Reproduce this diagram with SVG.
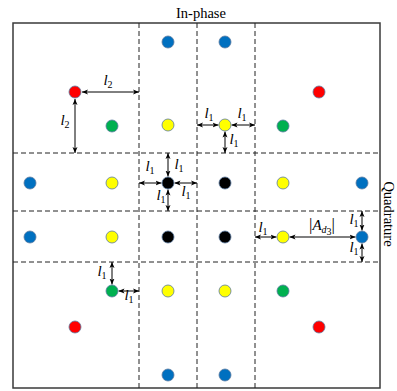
<svg xmlns="http://www.w3.org/2000/svg" width="397" height="391" viewBox="0 0 397 391">
<style>
.box{fill:none;stroke:#3a3a3a;stroke-width:1.5}
.dash{fill:none;stroke:#222;stroke-width:1;stroke-dasharray:5,3}
.arr{fill:none;stroke:#000;stroke-width:1;marker-start:url(#ah);marker-end:url(#ah)}
.dot{stroke:#5a7aa0;stroke-width:0.8}
.blue{fill:#0070C0}.red{fill:#FF0000}.green{fill:#00B050}.yellow{fill:#FFFF00}.black{fill:#000000}
.ttl{font-family:"Liberation Serif","DejaVu Serif",serif;font-size:14.5px;fill:#000}
.lab{font-family:"Liberation Serif","DejaVu Serif",serif;font-style:italic;font-size:15px;fill:#000;text-anchor:middle}
.sub{font-style:normal;font-size:10px}
</style>
<defs>
<marker id="ah" viewBox="0 0 6 6" refX="6" refY="3" markerWidth="6" markerHeight="6" markerUnits="userSpaceOnUse" orient="auto-start-reverse">
<path d="M0,0.5 L6,3 L0,5.5 L1.5,3 z" fill="#000"/>
</marker>
</defs>
<g id="frame">
<rect class="box" x="13" y="23" width="367" height="365"/>
<line class="dash" x1="139" y1="23" x2="139" y2="388"/>
<line class="dash" x1="197" y1="23" x2="197" y2="388"/>
<line class="dash" x1="255" y1="23" x2="255" y2="388"/>
<line class="dash" x1="13" y1="153" x2="380" y2="153"/>
<line class="dash" x1="13" y1="211" x2="380" y2="211"/>
<line class="dash" x1="13" y1="262" x2="380" y2="262"/>
<text class="ttl" x="201" y="18" text-anchor="middle">In-phase</text>
<text class="ttl" transform="translate(384,214) rotate(90)" text-anchor="middle" font-size="15.5">Quadrature</text>
</g>
<g id="connectors">
<line class="arr" x1="82" y1="92" x2="139" y2="92"/>
<line class="arr" x1="75" y1="99" x2="75" y2="153"/>
<line class="arr" x1="197" y1="125" x2="218.5" y2="125"/>
<line class="arr" x1="231.5" y1="125" x2="255" y2="125"/>
<line class="arr" x1="225" y1="131.5" x2="225" y2="153"/>
<line class="arr" x1="168" y1="153" x2="168" y2="176.5"/>
<line class="arr" x1="139" y1="183" x2="161.5" y2="183"/>
<line class="arr" x1="174.5" y1="183" x2="197" y2="183"/>
<line class="arr" x1="168" y1="189.5" x2="168" y2="211"/>
<line class="arr" x1="255" y1="237" x2="276.5" y2="237"/>
<line class="arr" x1="289.5" y1="237" x2="355.5" y2="237"/>
<line class="arr" x1="362" y1="211" x2="362" y2="230.5"/>
<line class="arr" x1="362" y1="243.5" x2="362" y2="262"/>
<line class="arr" x1="112" y1="262" x2="112" y2="284.5"/>
<line class="arr" x1="118.5" y1="291" x2="139" y2="291"/>
</g>
<g id="labels">
<text class="lab" x="108" y="85">l<tspan class="sub" dy="3">2</tspan></text>
<text class="lab" x="65" y="125">l<tspan class="sub" dy="3">2</tspan></text>
<text class="lab" x="209" y="118">l<tspan class="sub" dy="3">1</tspan></text>
<text class="lab" x="242" y="118">l<tspan class="sub" dy="3">1</tspan></text>
<text class="lab" x="234" y="144">l<tspan class="sub" dy="3">1</tspan></text>
<text class="lab" x="179" y="169">l<tspan class="sub" dy="3">1</tspan></text>
<text class="lab" x="150" y="171">l<tspan class="sub" dy="3">1</tspan></text>
<text class="lab" x="186" y="196">l<tspan class="sub" dy="3">1</tspan></text>
<text class="lab" x="161" y="200">l<tspan class="sub" dy="3">1</tspan></text>
<text class="lab" x="263" y="232">l<tspan class="sub" dy="3">1</tspan></text>
<text class="lab" x="322" y="230"><tspan style="font-style:normal" font-size="17">|</tspan>A<tspan class="sub" style="font-style:italic" dy="3">d</tspan><tspan class="sub" font-size="7.5" dy="2">3</tspan><tspan style="font-style:normal" font-size="17" dy="-5">|</tspan></text>
<text class="lab" x="354" y="224">l<tspan class="sub" dy="3">1</tspan></text>
<text class="lab" x="354" y="252">l<tspan class="sub" dy="3">1</tspan></text>
<text class="lab" x="102" y="276">l<tspan class="sub" dy="3">1</tspan></text>
<text class="lab" x="129" y="300">l<tspan class="sub" dy="3">1</tspan></text>
</g>
<g id="points">
<circle id="p1" class="dot blue" cx="168" cy="42" r="6"/>
<circle id="p2" class="dot blue" cx="225" cy="42" r="6"/>
<circle id="p3" class="dot red" cx="75" cy="92" r="6"/>
<circle id="p4" class="dot red" cx="319" cy="92" r="6"/>
<circle id="p5" class="dot green" cx="112" cy="126" r="6"/>
<circle id="p6" class="dot yellow" cx="168" cy="125" r="6"/>
<circle id="p7" class="dot yellow" cx="225" cy="125" r="6"/>
<circle id="p8" class="dot green" cx="283" cy="126" r="6"/>
<circle id="p9" class="dot blue" cx="30" cy="183" r="6"/>
<circle id="p10" class="dot yellow" cx="112" cy="183" r="6"/>
<circle id="p11" class="dot black" cx="168" cy="183" r="6"/>
<circle id="p12" class="dot black" cx="225" cy="183" r="6"/>
<circle id="p13" class="dot yellow" cx="283" cy="183" r="6"/>
<circle id="p14" class="dot blue" cx="362" cy="183" r="6"/>
<circle id="p15" class="dot blue" cx="30" cy="237" r="6"/>
<circle id="p16" class="dot yellow" cx="112" cy="237" r="6"/>
<circle id="p17" class="dot black" cx="168" cy="237" r="6"/>
<circle id="p18" class="dot black" cx="225" cy="237" r="6"/>
<circle id="p19" class="dot yellow" cx="283" cy="237" r="6"/>
<circle id="p20" class="dot blue" cx="362" cy="237" r="6"/>
<circle id="p21" class="dot green" cx="112" cy="291" r="6"/>
<circle id="p22" class="dot yellow" cx="168" cy="291" r="6"/>
<circle id="p23" class="dot yellow" cx="225" cy="291" r="6"/>
<circle id="p24" class="dot green" cx="283" cy="291" r="6"/>
<circle id="p25" class="dot red" cx="75" cy="327" r="6"/>
<circle id="p26" class="dot red" cx="319" cy="327" r="6"/>
<circle id="p27" class="dot blue" cx="168" cy="375" r="6"/>
<circle id="p28" class="dot blue" cx="225" cy="375" r="6"/>
</g>
</svg>
